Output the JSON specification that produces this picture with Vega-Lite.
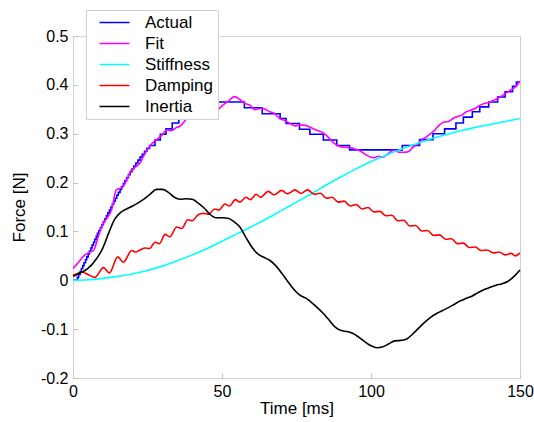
{
  "$schema": "https://vega.github.io/schema/vega-lite/v6.json",
  "width": 447,
  "height": 342,
  "autosize": "none",
  "padding": {"left": 73, "top": 36, "right": 14, "bottom": 44},
  "background": "white",
  "config": {
    "font": "Liberation Sans",
    "view": {"stroke": "#d2d2d2", "strokeWidth": 1},
    "axis": {"labelFont": "Liberation Sans", "titleFont": "Liberation Sans", "labelColor": "black", "titleColor": "black", "labelFontSize": 16, "titleFontSize": 17, "titleFontWeight": "normal", "grid": false, "domain": false, "tickColor": "#c4c4c4", "tickSize": -5}
  },
  "datasets": {
    "actual": [
      {"t":0,"v":0},{"t":1.5,"v":0.006},{"t":1.9,"v":0.012},{"t":2.4,"v":0.018},{"t":2.8,"v":0.024},{"t":3.3,"v":0.03},{"t":3.7,"v":0.036},{"t":4.2,"v":0.042},{"t":4.6,"v":0.048},{"t":5.1,"v":0.054},{"t":5.5,"v":0.06},{"t":6.0,"v":0.066},{"t":6.4,"v":0.072},{"t":6.9,"v":0.078},{"t":7.3,"v":0.084},{"t":7.8,"v":0.09},{"t":8.2,"v":0.096},{"t":8.7,"v":0.102},{"t":9.2,"v":0.108},{"t":9.7,"v":0.114},{"t":10.2,"v":0.12},{"t":10.7,"v":0.126},{"t":11.2,"v":0.132},{"t":11.7,"v":0.138},{"t":12.2,"v":0.144},{"t":12.7,"v":0.15},{"t":13.2,"v":0.156},{"t":13.7,"v":0.162},{"t":14.2,"v":0.168},{"t":14.7,"v":0.174},{"t":15.2,"v":0.18},{"t":15.8,"v":0.186},{"t":16.3,"v":0.192},{"t":16.9,"v":0.198},{"t":17.4,"v":0.204},{"t":18.0,"v":0.21},{"t":18.6,"v":0.216},{"t":19.2,"v":0.222},{"t":19.8,"v":0.228},{"t":20.4,"v":0.234},{"t":21.1,"v":0.24},{"t":21.8,"v":0.246},{"t":22.5,"v":0.252},{"t":23.2,"v":0.258},{"t":24.0,"v":0.264},{"t":24.8,"v":0.27},{"t":25.7,"v":0.276},{"t":27.5,"v":0.287},{"t":29.3,"v":0.299},{"t":31.2,"v":0.31},{"t":33.3,"v":0.322},{"t":35.5,"v":0.333},{"t":37.8,"v":0.345},{"t":40.3,"v":0.356},{"t":42.5,"v":0.365},{"t":57.5,"v":0.353},{"t":63.5,"v":0.341},{"t":69.5,"v":0.331},{"t":71.5,"v":0.321},{"t":76,"v":0.309},{"t":79.5,"v":0.299},{"t":84,"v":0.287},{"t":88.5,"v":0.276},{"t":92.8,"v":0.267},{"t":110.5,"v":0.276},{"t":116.3,"v":0.288},{"t":120.8,"v":0.30},{"t":124.7,"v":0.31},{"t":128.5,"v":0.322},{"t":131,"v":0.334},{"t":134,"v":0.345},{"t":136.5,"v":0.355},{"t":139.5,"v":0.365},{"t":142.5,"v":0.375},{"t":145,"v":0.386},{"t":147.5,"v":0.397},{"t":148.8,"v":0.406},{"t":150,"v":0.406}
    ],
    "fit": [
      {"t":0,"v":0.024},{"t":2,"v":0.038},{"t":4,"v":0.052},{"t":5.5,"v":0.057},{"t":7,"v":0.062},{"t":8.5,"v":0.09},{"t":10,"v":0.115},{"t":11.5,"v":0.128},{"t":13,"v":0.145},{"t":14.5,"v":0.185},{"t":16.5,"v":0.19},{"t":18,"v":0.205},{"t":19.5,"v":0.225},{"t":21,"v":0.232},{"t":22.5,"v":0.24},{"t":24,"v":0.258},{"t":25.5,"v":0.272},{"t":27,"v":0.283},{"t":28.5,"v":0.29},{"t":30,"v":0.298},{"t":31.5,"v":0.308},{"t":33,"v":0.306},{"t":34.5,"v":0.312},{"t":36,"v":0.316},{"t":37.5,"v":0.326},{"t":39,"v":0.338},{"t":40.5,"v":0.342},{"t":42,"v":0.342},{"t":44,"v":0.34},{"t":46,"v":0.341},{"t":48,"v":0.346},{"t":50,"v":0.357},{"t":52,"v":0.366},{"t":54.2,"v":0.376},{"t":56,"v":0.37},{"t":57.7,"v":0.362},{"t":59.5,"v":0.358},{"t":61,"v":0.349},{"t":63,"v":0.352},{"t":64.5,"v":0.35},{"t":66,"v":0.345},{"t":67.5,"v":0.342},{"t":69.4,"v":0.331},{"t":71,"v":0.327},{"t":72.8,"v":0.321},{"t":74.5,"v":0.316},{"t":76,"v":0.318},{"t":78,"v":0.317},{"t":80,"v":0.312},{"t":81.8,"v":0.307},{"t":83.5,"v":0.303},{"t":85.1,"v":0.296},{"t":87,"v":0.284},{"t":88.5,"v":0.277},{"t":90,"v":0.273},{"t":91.8,"v":0.272},{"t":93.5,"v":0.271},{"t":95,"v":0.268},{"t":96.5,"v":0.264},{"t":98,"v":0.258},{"t":99.5,"v":0.253},{"t":101,"v":0.251},{"t":102.5,"v":0.254},{"t":104,"v":0.252},{"t":105.5,"v":0.258},{"t":107.5,"v":0.266},{"t":109.5,"v":0.262},{"t":111,"v":0.262},{"t":112.5,"v":0.263},{"t":114,"v":0.272},{"t":115.5,"v":0.278},{"t":117,"v":0.288},{"t":118.5,"v":0.293},{"t":120,"v":0.30},{"t":121.5,"v":0.308},{"t":123,"v":0.318},{"t":124.5,"v":0.324},{"t":126,"v":0.325},{"t":127.5,"v":0.331},{"t":129,"v":0.335},{"t":130.5,"v":0.338},{"t":132,"v":0.345},{"t":133.5,"v":0.348},{"t":135,"v":0.352},{"t":136.5,"v":0.358},{"t":138,"v":0.362},{"t":139.5,"v":0.364},{"t":141,"v":0.368},{"t":142.5,"v":0.372},{"t":144,"v":0.378},{"t":145.5,"v":0.384},{"t":147,"v":0.39},{"t":148.5,"v":0.396},{"t":150,"v":0.408}
    ],
    "stiffness": [
      {"t":0,"v":0},{"t":5,"v":0.001},{"t":10,"v":0.004},{"t":15,"v":0.008},{"t":20,"v":0.013},{"t":25,"v":0.02},{"t":30,"v":0.029},{"t":35,"v":0.04},{"t":40,"v":0.052},{"t":45,"v":0.065},{"t":50,"v":0.08},{"t":55,"v":0.095},{"t":60,"v":0.11},{"t":65,"v":0.126},{"t":70,"v":0.143},{"t":75,"v":0.16},{"t":80,"v":0.177},{"t":85,"v":0.195},{"t":90,"v":0.212},{"t":95,"v":0.228},{"t":100,"v":0.243},{"t":105,"v":0.256},{"t":110,"v":0.268},{"t":115,"v":0.279},{"t":120,"v":0.289},{"t":125,"v":0.298},{"t":130,"v":0.306},{"t":135,"v":0.313},{"t":140,"v":0.319},{"t":145,"v":0.325},{"t":150,"v":0.331}
    ],
    "damping": [
      {"t":0,"v":0.01},{"t":1.5,"v":0.014},{"t":3,"v":0.017},{"t":5,"v":0.012},{"t":7.4,"v":0.006},{"t":10.2,"v":0.026},{"t":12.2,"v":0.015},{"t":15,"v":0.048},{"t":16.9,"v":0.037},{"t":19.7,"v":0.061},{"t":21,"v":0.058},{"t":22.5,"v":0.062},{"t":24.2,"v":0.066},{"t":25.7,"v":0.065},{"t":27.5,"v":0.078},{"t":29,"v":0.075},{"t":30.9,"v":0.094},{"t":32.5,"v":0.089},{"t":34.8,"v":0.109},{"t":36.5,"v":0.106},{"t":38.5,"v":0.124},{"t":40,"v":0.122},{"t":42,"v":0.134},{"t":43.7,"v":0.137},{"t":45.5,"v":0.135},{"t":47.5,"v":0.146},{"t":49,"v":0.144},{"t":51,"v":0.156},{"t":52.5,"v":0.152},{"t":54.5,"v":0.165},{"t":56,"v":0.16},{"t":58,"v":0.17},{"t":59.5,"v":0.165},{"t":61.5,"v":0.176},{"t":63,"v":0.17},{"t":65.5,"v":0.182},{"t":67.5,"v":0.175},{"t":70,"v":0.184},{"t":72,"v":0.177},{"t":74.5,"v":0.185},{"t":76.5,"v":0.178},{"t":78.7,"v":0.185},{"t":81,"v":0.176},{"t":83,"v":0.178},{"t":85,"v":0.168},{"t":87,"v":0.17},{"t":89,"v":0.16},{"t":91,"v":0.162},{"t":93,"v":0.152},{"t":95,"v":0.155},{"t":97,"v":0.146},{"t":99,"v":0.149},{"t":101,"v":0.14},{"t":103,"v":0.141},{"t":105,"v":0.132},{"t":107,"v":0.133},{"t":109,"v":0.122},{"t":111,"v":0.123},{"t":113,"v":0.111},{"t":115,"v":0.112},{"t":117,"v":0.101},{"t":119,"v":0.102},{"t":121,"v":0.092},{"t":123,"v":0.093},{"t":125,"v":0.084},{"t":127,"v":0.085},{"t":129,"v":0.075},{"t":131,"v":0.076},{"t":133,"v":0.067},{"t":135,"v":0.068},{"t":137,"v":0.061},{"t":139,"v":0.062},{"t":141,"v":0.056},{"t":143,"v":0.058},{"t":145,"v":0.052},{"t":147,"v":0.055},{"t":148.5,"v":0.05},{"t":150,"v":0.056}
    ],
    "inertia": [
      {"t":0,"v":0.008},{"t":2,"v":0.014},{"t":4,"v":0.02},{"t":6,"v":0.03},{"t":8,"v":0.045},{"t":10,"v":0.066},{"t":12,"v":0.097},{"t":14,"v":0.125},{"t":16,"v":0.139},{"t":18,"v":0.146},{"t":20,"v":0.152},{"t":22,"v":0.159},{"t":24,"v":0.167},{"t":26,"v":0.177},{"t":28,"v":0.186},{"t":30,"v":0.186},{"t":32,"v":0.18},{"t":34,"v":0.17},{"t":36,"v":0.166},{"t":38,"v":0.167},{"t":40,"v":0.166},{"t":42,"v":0.158},{"t":44,"v":0.148},{"t":46,"v":0.135},{"t":48,"v":0.128},{"t":50,"v":0.128},{"t":52,"v":0.127},{"t":54,"v":0.12},{"t":56,"v":0.109},{"t":58,"v":0.088},{"t":60,"v":0.068},{"t":62,"v":0.054},{"t":64,"v":0.047},{"t":66,"v":0.041},{"t":68,"v":0.03},{"t":70,"v":0.015},{"t":72,"v":-0.002},{"t":74,"v":-0.018},{"t":76,"v":-0.03},{"t":78,"v":-0.036},{"t":80,"v":-0.045},{"t":82,"v":-0.056},{"t":84,"v":-0.068},{"t":86,"v":-0.082},{"t":88,"v":-0.096},{"t":90,"v":-0.103},{"t":92,"v":-0.105},{"t":94,"v":-0.109},{"t":96,"v":-0.117},{"t":98,"v":-0.126},{"t":100,"v":-0.134},{"t":102,"v":-0.138},{"t":104,"v":-0.136},{"t":106,"v":-0.13},{"t":108,"v":-0.124},{"t":110,"v":-0.123},{"t":112,"v":-0.12},{"t":114,"v":-0.11},{"t":116,"v":-0.098},{"t":118,"v":-0.086},{"t":120,"v":-0.076},{"t":122,"v":-0.068},{"t":124,"v":-0.062},{"t":126,"v":-0.056},{"t":128,"v":-0.049},{"t":130,"v":-0.042},{"t":132,"v":-0.037},{"t":134,"v":-0.032},{"t":136,"v":-0.025},{"t":138,"v":-0.019},{"t":140,"v":-0.014},{"t":142,"v":-0.01},{"t":144,"v":-0.007},{"t":146,"v":-0.002},{"t":148,"v":0.008},{"t":150,"v":0.021}
    ]
  },
  "encoding": {
    "x": {"field": "t", "type": "quantitative", "scale": {"domain": [0, 150], "nice": false},
      "axis": {"values": [0, 50, 100, 150], "title": "Time [ms]", "labelPadding": 10, "titlePadding": 1, "labelFlush": false}},
    "y": {"field": "v", "type": "quantitative", "scale": {"domain": [-0.2, 0.5], "nice": false},
      "axis": {"values": [-0.2, -0.1, 0, 0.1, 0.2, 0.3, 0.4, 0.5], "format": ".1~f", "labelExpr": "replace(datum.label, '\u2212', '-')", "title": "Force [N]", "labelPadding": 10, "titlePadding": 12, "labelFlush": false}}
  },
  "layer": [
    {"data": {"name": "actual"}, "mark": {"type": "line", "strokeWidth": 1.6, "interpolate": "step-after"},
      "encoding": {"color": {"datum": "Actual", "type": "nominal",
        "scale": {"domain": ["Actual", "Fit", "Stiffness", "Damping", "Inertia"], "range": ["#0000ff", "#ff00ff", "#00ffff", "#ff0000", "#000000"]},
        "legend": {"title": null, "orient": "none", "legendX": 13, "legendY": -26, "fillColor": "white", "strokeColor": "#d0d0d0", "padding": 4, "symbolType": "M 0.2 0 L 6.2 0", "symbolSize": 100, "symbolStrokeWidth": 1.5, "labelFontSize": 17, "labelFont": "Liberation Sans", "labelColor": "black", "labelOffset": 38, "rowPadding": 3, "labelExpr": "datum.label + '     '"}}}},
    {"data": {"name": "fit"}, "mark": {"type": "line", "strokeWidth": 1.6, "interpolate": "monotone"}, "encoding": {"color": {"datum": "Fit", "type": "nominal"}}},
    {"data": {"name": "stiffness"}, "mark": {"type": "line", "strokeWidth": 1.6, "interpolate": "monotone"}, "encoding": {"color": {"datum": "Stiffness", "type": "nominal"}}},
    {"data": {"name": "damping"}, "mark": {"type": "line", "strokeWidth": 1.6, "interpolate": "monotone"}, "encoding": {"color": {"datum": "Damping", "type": "nominal"}}},
    {"data": {"name": "inertia"}, "mark": {"type": "line", "strokeWidth": 1.6, "interpolate": "monotone"}, "encoding": {"color": {"datum": "Inertia", "type": "nominal"}}}
  ]
}
